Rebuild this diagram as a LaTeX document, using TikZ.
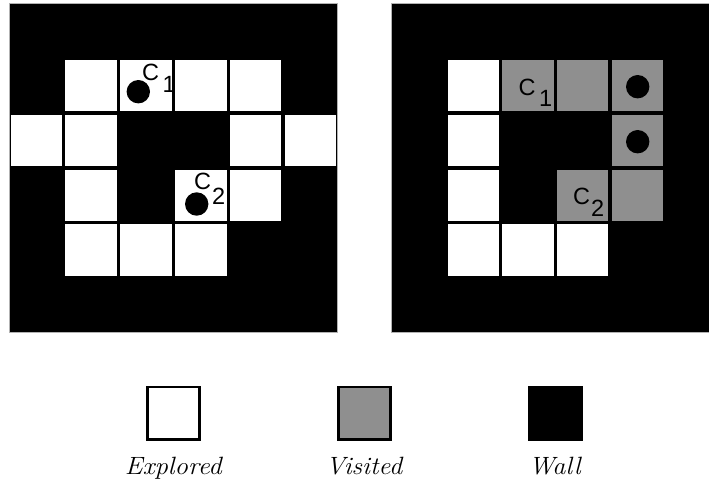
\documentclass[tikz,border=0pt]{standalone}
\usepackage{fontspec}
\newfontfamily\csans{Liberation Sans}
\definecolor{visgray}{RGB}{143,143,143}
\begin{document}
\begin{tikzpicture}[x=1pt,y=-1pt,
  cellw/.style={fill=white,draw=black,line width=3.3pt},
  cellg/.style={fill=visgray,draw=black,line width=3.3pt},
  gridback/.style={fill=black},
  gridframe/.style={draw=gray!60,line width=1pt},
  dot/.style={fill=black},
  clab/.style={font=\csans\fontsize{23.5}{23.5}\selectfont,inner sep=0pt,anchor=base west},
  legbox/.style={minimum size=52.5pt,inner sep=0pt,line width=2.6pt,draw=black},
  leglab/.style={font=\itshape\fontsize{25}{28}\selectfont,inner sep=0pt,anchor=base}]
\useasboundingbox (0,0) rectangle (709,482);
\def\s{54.8}
% left grid
\begin{scope}
\clip (9,3.5) rectangle (337.8,332.3);
\path[gridback] (9,3.5) rectangle (337.8,332.3);
\foreach \c/\r in {1/1,2/1,3/1,4/1,0/2,1/2,4/2,5/2,1/3,3/3,4/3,1/4,2/4,3/4}
  \draw[cellw] ({9+\c*\s},{3.5+\r*\s}) rectangle ++(\s,\s);
\end{scope}
\path[gridframe] (9,3.5) rectangle (337.8,332.3);
\fill[dot] (138.3,91.7) circle (11.7pt);
\fill[dot] (196.7,204) circle (11.7pt);
\node[clab] (lc1) at (142,80.5) {C};
\node[clab] (lc1s) at (162.5,92) {1};
\node[clab] (lc2) at (194,189) {C};
\node[clab] (lc2s) at (212,204) {2};
% right grid
\begin{scope}
\clip (391.5,3.5) rectangle (709,332.3);
\path[gridback] (391.5,3.5) rectangle (730,332.3);
\def\t{54.6}
\foreach \c/\r in {1/1,1/2,1/3,1/4,2/4,3/4}
  \draw[cellw] ({391.5+\c*\t},{3.5+\r*\s}) rectangle ++(\t,\s);
\foreach \c/\r in {2/1,3/1,4/1,4/2,3/3,4/3}
  \draw[cellg] ({391.5+\c*\t},{3.5+\r*\s}) rectangle ++(\t,\s);
\end{scope}
\path[gridframe] (720,3.5) -- (391.5,3.5) -- (391.5,332.3) -- (720,332.3);
\fill[dot] (637.7,86.7) circle (11.7pt);
\fill[dot] (637.7,141.7) circle (11.7pt);
\node[clab] (rc1) at (518.5,95) {C};
\node[clab] (rc1s) at (539,106.5) {1};
\node[clab] (rc2) at (573,204) {C};
\node[clab] (rc2s) at (591,216.7) {2};
% legend
\node[legbox,fill=white] (lexp) at (173.5,413.3) {};
\node[legbox,fill=visgray] (lvis) at (364.5,413.2) {};
\node[legbox,fill=black] (lwall) at (555.7,413.2) {};
\node[leglab] (texp) at (173.3,474) {\scalebox{1.07}[1]{Explored}};
\node[leglab] (tvis) at (364,474.5) {\scalebox{1.05}[1]{Visited}};
\node[leglab] (twall) at (554.7,474.5) {\scalebox{1.05}[1]{Wall}};
\end{tikzpicture}
\end{document}
